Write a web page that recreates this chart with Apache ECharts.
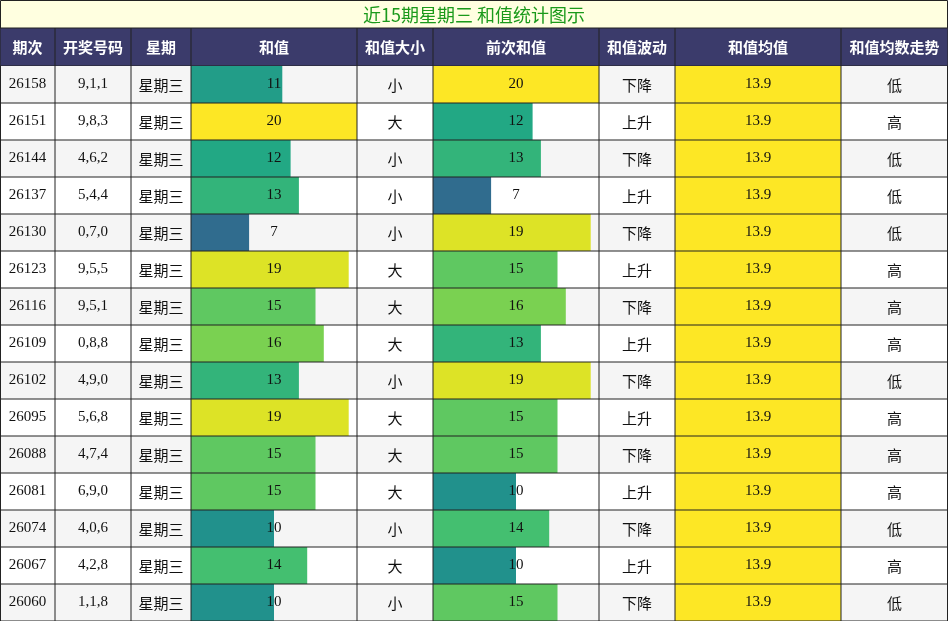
<!DOCTYPE html><html><head><meta charset="utf-8"><script src="https://cdn.jsdelivr.net/npm/echarts@6/dist/echarts.min.js"></script>
<style>html,body{margin:0;padding:0;background:#fff}#c{width:948px;height:621px}</style></head><body><div id="c"></div><script>
const titleText='近15期星期三 和值统计图示';
const headers=['期次','开奖号码','星期','和值','和值大小','前次和值','和值波动','和值均值','和值均数走势'];
const issues=['26158','26151','26144','26137','26130','26123','26116','26109','26102','26095','26088','26081','26074','26067','26060'];
const numbers=['9,1,1','9,8,3','4,6,2','5,4,4','0,7,0','9,5,5','9,5,1','0,8,8','4,9,0','5,6,8','4,7,4','6,9,0','4,0,6','4,2,8','1,1,8'];
const weekday='星期三';
const sums=[11,20,12,13,7,19,15,16,13,19,15,15,10,14,10];
const sizes=['小','大','小','小','小','大','大','大','小','大','大','大','小','大','小'];
const prevSums=[20,12,13,7,19,15,16,13,19,15,15,10,14,10,15];
const waves=['下降','上升','下降','上升','下降','上升','下降','上升','下降','上升','下降','上升','下降','上升','下降'];
const means=[13.9,13.9,13.9,13.9,13.9,13.9,13.9,13.9,13.9,13.9,13.9,13.9,13.9,13.9,13.9];
const trends=['低','高','低','低','低','高','高','高','低','高','高','高','低','高','低'];

const colX=[0,55,131,191,357,433,599,675,841,948];
const TOP=66,TITLE_H=28;
const viridis=['#440154','#482475','#414487','#355f8d','#2a788e','#21918c','#22a884','#44bf70','#7ad151','#bddf26','#fde725'];
const cjk='"Noto Sans CJK SC",sans-serif', serif='"Liberation Serif",serif';
const rows=issues.map((_,i)=>i);
const chart=echarts.init(document.getElementById('c'));
const grids=[{left:0,right:0,top:TOP,bottom:0}];
const xAxes=[{type:'value',min:0,max:948,show:false,gridIndex:0}];
const yAxes=[{type:'category',data:rows,inverse:true,show:false,gridIndex:0}];
const barCols=[[3,sums,20],[5,prevSums,20],[7,means,13.9]];
const series=[];
// backgrounds
series.push({type:'custom',xAxisIndex:0,yAxisIndex:0,z:1,silent:true,data:rows,renderItem:(p,api)=>{
 const r=api.value(0);const y0=api.coord([0,r])[1]-18.5;
 return {type:'rect',shape:{x:0,y:y0,width:948,height:37},style:{fill:r%2===0?'#f5f5f5':'#ffffff'}};
}});
barCols.forEach((bc,k)=>{
 const gi=k+1;
 grids.push({left:colX[bc[0]],width:colX[bc[0]+1]-colX[bc[0]],top:TOP,bottom:0});
 xAxes.push({type:'value',min:0,max:bc[2],show:false,gridIndex:gi});
 yAxes.push({type:'category',data:rows,inverse:true,show:false,gridIndex:gi});
 series.push({type:'bar',xAxisIndex:gi,yAxisIndex:gi,z:2,silent:true,barCategoryGap:'0%',data:bc[1].map(v=>({value:v,itemStyle:{color:bc[0]===7?'#fde725':null}}))});
});
// texts and grid lines
series.push({type:'custom',xAxisIndex:0,yAxisIndex:0,z:5,silent:true,data:rows,renderItem:(p,api)=>{
 const r=api.value(0);const cy=api.coord([0,r])[1];const y0=cy-18.5;
 const vals=[issues[r],numbers[r],weekday,String(sums[r]),sizes[r],String(prevSums[r]),waves[r],means[r].toFixed(1),trends[r]];
 const fonts=[serif,serif,cjk,serif,cjk,serif,cjk,serif,cjk];
 const ch=[];
 vals.forEach((t,c)=>{const cx=(colX[c]+colX[c+1])/2;
  ch.push({type:'text',style:{text:t,x:cx,y:cy+(fonts[c]===cjk?1:0),align:'center',verticalAlign:'middle',fill:'#111',font:'15px '+fonts[c]}});});
 ch.push({type:'line',shape:{x1:0,y1:y0+37,x2:948,y2:y0+37},style:{stroke:'#222',lineWidth:1}});
 colX.forEach(x=>ch.push({type:'line',shape:{x1:Math.min(Math.max(x,0.5),947.5),y1:y0,x2:Math.min(Math.max(x,0.5),947.5),y2:y0+37},style:{stroke:'#222',lineWidth:1}}));
 return {type:'group',children:ch};
}});
const graphic=[{type:'rect',shape:{x:0.5,y:0.5,width:947,height:TITLE_H},style:{fill:'#ffffe0',stroke:'#222',lineWidth:1}},
 {type:'text',style:{text:titleText,x:474,y:15,align:'center',verticalAlign:'middle',fill:'#1a9a1a',font:'18px '+cjk}},
 {type:'rect',shape:{x:0,y:TITLE_H,width:948,height:TOP-TITLE_H},style:{fill:'#3b3b6b',stroke:'#222'}}];
headers.forEach((h,c)=>{graphic.push({type:'text',style:{text:h,x:(colX[c]+colX[c+1])/2,y:(TITLE_H+TOP)/2,align:'center',verticalAlign:'middle',fill:'#fff',font:'bold 15px '+cjk}});
 if(c>0)graphic.push({type:'line',shape:{x1:colX[c],y1:TITLE_H,x2:colX[c],y2:TOP},style:{stroke:'#222'}});});
chart.setOption({animation:false,grid:grids,xAxis:xAxes,yAxis:yAxes,
 visualMap:{show:false,type:'continuous',min:0,max:20,seriesIndex:[1,2],dimension:0,inRange:{color:viridis}},
 series,graphic});
</script></body></html>
